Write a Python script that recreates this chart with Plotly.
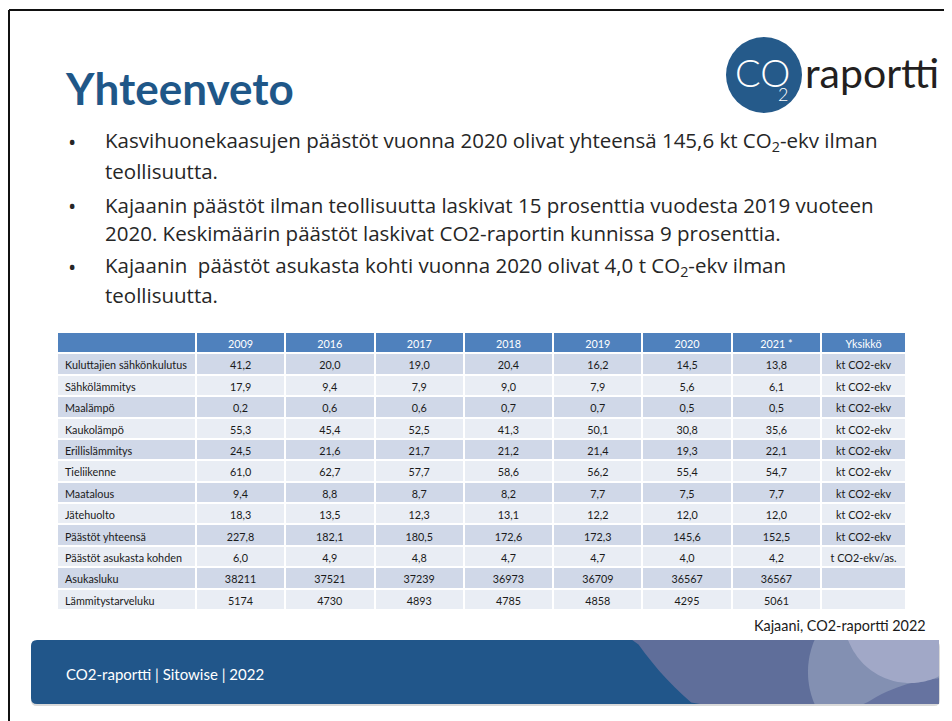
import numpy as np
import plotly.graph_objects as go

W, H = 952, 721
OFF = 8  # browser body margin; figure is drawn 8px in from the top-left corner
FW, FH = W - OFF, H - OFF

# ---------------- data ----------------
years = ["2009", "2016", "2017", "2018", "2019", "2020", "2021 *"]
row_labels = [
    "Kuluttajien sähkönkulutus", "Sähkölämmitys", "Maalämpö", "Kaukolämpö",
    "Erillislämmitys", "Tieliikenne", "Maatalous", "Jätehuolto",
    "Päästöt yhteensä", "Päästöt asukasta kohden", "Asukasluku", "Lämmitystarveluku",
]
v2009 = [41.2, 17.9, 0.2, 55.3, 24.5, 61.0, 9.4, 18.3, 227.8, 6.0, 38211, 5174]
v2016 = [20.0, 9.4, 0.6, 45.4, 21.6, 62.7, 8.8, 13.5, 182.1, 4.9, 37521, 4730]
v2017 = [19.0, 7.9, 0.6, 52.5, 21.7, 57.7, 8.7, 12.3, 180.5, 4.8, 37239, 4893]
v2018 = [20.4, 9.0, 0.7, 41.3, 21.2, 58.6, 8.2, 13.1, 172.6, 4.7, 36973, 4785]
v2019 = [16.2, 7.9, 0.7, 50.1, 21.4, 56.2, 7.7, 12.2, 172.3, 4.7, 36709, 4858]
v2020 = [14.5, 5.6, 0.5, 30.8, 19.3, 55.4, 7.5, 12.0, 145.6, 4.0, 36567, 4295]
v2021 = [13.8, 6.1, 0.5, 35.6, 22.1, 54.7, 7.7, 12.0, 152.5, 4.2, 36567, 5061]
units = ["kt CO2-ekv"] * 9 + ["t CO2-ekv/as.", "", ""]
unit_header = "Yksikkö"

title = "Yhteenveto"
bullets = [
    ["Kasvihuonekaasujen päästöt vuonna 2020 olivat yhteensä 145,6 kt CO<sub>2</sub>-ekv ilman",
     "teollisuutta."],
    ["Kajaanin päästöt ilman teollisuutta laskivat 15 prosenttia vuodesta 2019 vuoteen",
     "2020. Keskimäärin päästöt laskivat CO2-raportin kunnissa 9 prosenttia."],
    ["Kajaanin  päästöt asukasta kohti vuonna 2020 olivat 4,0 t CO<sub>2</sub>-ekv ilman",
     "teollisuutta."],
]
source_text = "Kajaani, CO2-raportti 2022"
footer_text = "CO2-raportti | Sitowise | 2022"


def fmt(v, integer):
    return str(int(v)) if integer else f"{v:.1f}".replace(".", ",")


def nb(s):
    # keep each cell on one line
    return s.replace(" ", "\u00a0")


year_cols = [v2009, v2016, v2017, v2018, v2019, v2020, v2021]
cols = [[nb(s) for s in row_labels]]
for col in year_cols:
    cols.append([fmt(v, i >= 10) for i, v in enumerate(col)])
cols.append([nb(s) for s in units])

# ---------------- styles ----------------
FONT = "Lato, 'Open Sans', sans-serif"
BODY = "'Open Sans', Lato, sans-serif"
HEADER_BLUE = "#4F81BD"
ROW_DARK = "#D0D8E8"
ROW_LIGHT = "#E9EDF4"
TITLE_BLUE = "#1F5788"
BAND_BLUE = "#21568A"

n_rows = len(row_labels)
row_fill = [ROW_DARK if i % 2 == 0 else ROW_LIGHT for i in range(n_rows)]

tbl_left, tbl_right, tbl_top, tbl_bottom = 57, 907, 332, 612
row_h = (610 - 332) / 13.0


def px(x):
    return (x - OFF) / FW


def py(y):
    return 1 - (y - OFF) / FH


table = go.Table(
    domain=dict(x=[px(tbl_left), px(tbl_right)], y=[py(tbl_bottom), py(tbl_top)]),
    columnwidth=[139] + [89.4] * 7 + [85],
    header=dict(
        values=[""] + years + [unit_header],
        fill_color=HEADER_BLUE,
        line=dict(color="white", width=2),
        font=dict(family=FONT, size=10.8, color="white"),
        align="center",
        height=row_h,
    ),
    cells=dict(
        values=cols,
        fill_color=[row_fill] * len(cols),
        line=dict(color="white", width=2),
        font=dict(family=FONT, size=10.8, color="#1a1a1a"),
        align=["left"] + ["center"] * 8,
        height=row_h,
    ),
)

fig = go.Figure(table)

shapes = []
# slide frame (top + left)
shapes.append(dict(type="line", x0=9, x1=W + 5, y0=10, y1=10, line=dict(color="#111111", width=2), xref="x", yref="y"))
shapes.append(dict(type="line", x0=9, x1=9, y0=10, y1=H + 5, line=dict(color="#111111", width=2), xref="x", yref="y"))

# logo circle
shapes.append(dict(type="circle", x0=726, x1=802, y0=37, y1=113, fillcolor="#255A8A",
                   line=dict(width=0), xref="x", yref="y"))

# footer band
bx0, bx1, by0, by1, rr = 31, 939, 640, 704, 6


def rrect(x0, x1, y0, y1, r):
    return (f"M {x0+r},{y0} L {x1-r},{y0} Q {x1},{y0} {x1},{y0+r} L {x1},{y1-r} "
            f"Q {x1},{y1} {x1-r},{y1} L {x0+r},{y1} Q {x0},{y1} {x0},{y1-r} "
            f"L {x0},{y0+r} Q {x0},{y0} {x0+r},{y0} Z")


def clipped_circle(cx, cy, r, n=180):
    t = np.linspace(0, 2 * np.pi, n)
    xs = np.clip(cx + r * np.cos(t), bx0, bx1)
    ys = np.clip(cy + r * np.sin(t), by0, by1)
    return "M " + " L ".join(f"{x:.1f},{y:.1f}" for x, y in zip(xs, ys)) + " Z"


shapes.append(dict(type="path", path=rrect(bx0, bx1 + 1, by0 + 1, by1 + 2, rr), fillcolor="#D9D9D9",
                   line=dict(width=0), xref="x", yref="y"))
shapes.append(dict(type="path", path=rrect(bx0, bx1, by0, by1, rr), fillcolor=BAND_BLUE,
                   line=dict(width=0), xref="x", yref="y"))
shapes.append(dict(type="path", path=clipped_circle(900, 460, 320), fillcolor="#5F6E9A",
                   line=dict(width=0), xref="x", yref="y"))
shapes.append(dict(type="path", path=clipped_circle(890, 672, 82), fillcolor="#8390B2",
                   line=dict(width=0), xref="x", yref="y"))
shapes.append(dict(type="path", path=clipped_circle(950, 830, 152), fillcolor="#6673A0",
                   line=dict(width=0), xref="x", yref="y"))
shapes.append(dict(type="path", path=clipped_circle(910, 617, 66), fillcolor="#A1A8C7",
                   line=dict(width=0), xref="x", yref="y"))

ann = []
ann.append(dict(text=f"<b>{title}</b>", x=63, y=88, xanchor="left", yanchor="middle",
                font=dict(family=FONT, size=44, color=TITLE_BLUE)))
ann.append(dict(text="CO", x=762, y=72, xanchor="center", yanchor="middle",
                font=dict(family=FONT, size=38, color="white", weight=300)))
ann.append(dict(text="2", x=783, y=94, xanchor="center", yanchor="middle",
                font=dict(family=FONT, size=18, color="white", weight=300)))
ann.append(dict(text="raportti", x=803, y=72, xanchor="left", yanchor="middle",
                font=dict(family=FONT, size=41, color="#231F20")))

line_y = [[141, 171], [205, 233], [266, 295]]
for lines, ys in zip(bullets, line_y):
    ann.append(dict(text="•", x=72, y=ys[0], xanchor="center", yanchor="middle",
                    font=dict(family=BODY, size=22, color="#262626")))
    for txt, yy in zip(lines, ys):
        ann.append(dict(text=txt, x=103, y=yy, xanchor="left", yanchor="middle",
                        font=dict(family=BODY, size=20.5, color="#262626")))

ann.append(dict(text=source_text, x=928, y=625, xanchor="right", yanchor="middle",
                font=dict(family=FONT, size=14.4, color="#1a1a1a")))
ann.append(dict(text=footer_text, x=64, y=674, xanchor="left", yanchor="middle",
                font=dict(family=FONT, size=15, color="white")))

for a in ann:
    a.update(xref="x", yref="y", showarrow=False)

fig.update_layout(
    width=FW, height=FH,
    margin=dict(l=0, r=0, t=0, b=0),
    paper_bgcolor="white", plot_bgcolor="rgba(0,0,0,0)",
    xaxis=dict(range=[OFF, W], visible=False, fixedrange=True, domain=[0, 1]),
    yaxis=dict(range=[H, OFF], visible=False, fixedrange=True, domain=[0, 1]),
    shapes=shapes, annotations=ann, showlegend=False,
)

fig.write_html("out.html")
